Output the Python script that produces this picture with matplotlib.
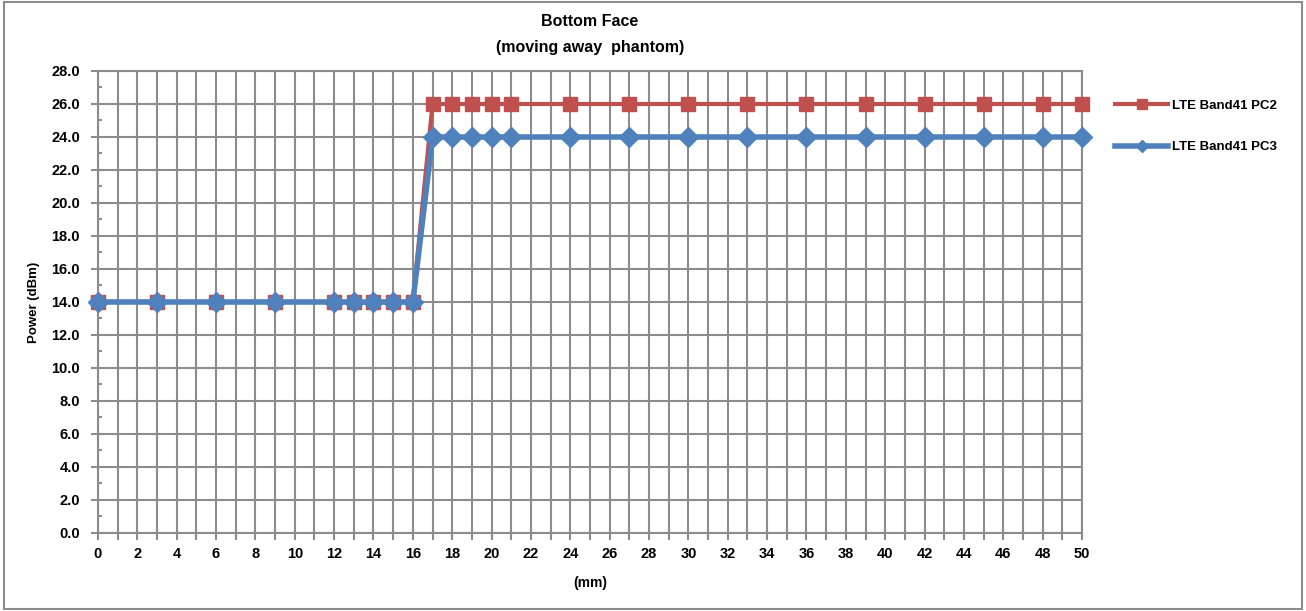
import matplotlib.pyplot as plt
from matplotlib.lines import Line2D
from matplotlib.patches import Rectangle
from matplotlib.ticker import MultipleLocator, FormatStrFormatter

plt.rcParams["font.family"] = ["Liberation Sans", "DejaVu Sans"]
plt.rcParams["font.weight"] = "bold"

# distance from phantom (mm)
dist = [0, 3, 6, 9, 12, 13, 14, 15, 16, 17, 18, 19, 20, 21,
        24, 27, 30, 33, 36, 39, 42, 45, 48, 50]
pc2 = [14, 14, 14, 14, 14, 14, 14, 14, 14, 26, 26, 26, 26, 26,
       26, 26, 26, 26, 26, 26, 26, 26, 26, 26]
pc3 = [14, 14, 14, 14, 14, 14, 14, 14, 14, 24, 24, 24, 24, 24,
       24, 24, 24, 24, 24, 24, 24, 24, 24, 24]
labels = ["LTE Band41 PC2", "LTE Band41 PC3"]

RED = "#c0504d"
BLUE = "#4f81bd"
GRID = "#8c8c8c"

fig = plt.figure(figsize=(13.06, 6.11), dpi=100)
ax = fig.add_axes([0.0750, 0.1277, 0.7535, 0.7561])

ax.plot(dist, pc2, color=RED, lw=3, marker="s", ms=10.5, zorder=3,
        label=labels[0], clip_on=False)
ax.plot(dist, pc3, color=BLUE, lw=4, marker="D", ms=10.5, zorder=4,
        label=labels[1], clip_on=False)

ax.set_xlim(0, 50)
ax.set_ylim(0, 28)
ax.xaxis.set_major_locator(MultipleLocator(2))
ax.xaxis.set_minor_locator(MultipleLocator(1))
ax.yaxis.set_major_locator(MultipleLocator(2))
ax.yaxis.set_minor_locator(MultipleLocator(1))
ax.yaxis.set_major_formatter(FormatStrFormatter("%.1f"))

ax.grid(True, which="major", axis="y", color=GRID, lw=1.5)
ax.grid(True, which="both", axis="x", color=GRID, lw=1.5)
ax.set_axisbelow(True)
for s in ax.spines.values():
    s.set_color(GRID)
    s.set_linewidth(1.5)

ax.tick_params(axis="both", which="major", labelsize=10.5, color=GRID,
               width=1.5, length=5, pad=5)
ax.tick_params(axis="y", which="major", pad=8)
ax.tick_params(axis="x", which="minor", color=GRID, width=1.5, length=5)
ax.tick_params(axis="y", which="minor", color=GRID, width=1.5, length=3,
               direction="in")
for t in ax.get_xticklabels() + ax.get_yticklabels():
    t.set_fontweight("bold")

ax.set_xlabel("(mm)", fontsize=10, fontweight="bold", labelpad=11)
ax.set_ylabel("Power (dBm)", fontsize=9.5, fontweight="bold", labelpad=8)
ax.set_title("Bottom Face\n(moving away  phantom)", fontsize=11.5,
             fontweight="bold", pad=14, linespacing=1.85)

handles = [Line2D([], [], color=RED, lw=3, marker="s", ms=7),
           Line2D([], [], color=BLUE, lw=4, marker="D", ms=6)]
fig.legend(handles, labels, loc="upper left",
           bbox_to_anchor=(0.845, 0.856), frameon=False,
           handlelength=4, labelspacing=2.2, handletextpad=0.3,
           prop={"weight": "bold", "size": 9.5})

fig.patches.append(Rectangle((0.003, 0.003), 0.994, 0.994,
                             transform=fig.transFigure, fill=False,
                             edgecolor=GRID, lw=1.5))

fig.savefig("out.png", dpi=100)
